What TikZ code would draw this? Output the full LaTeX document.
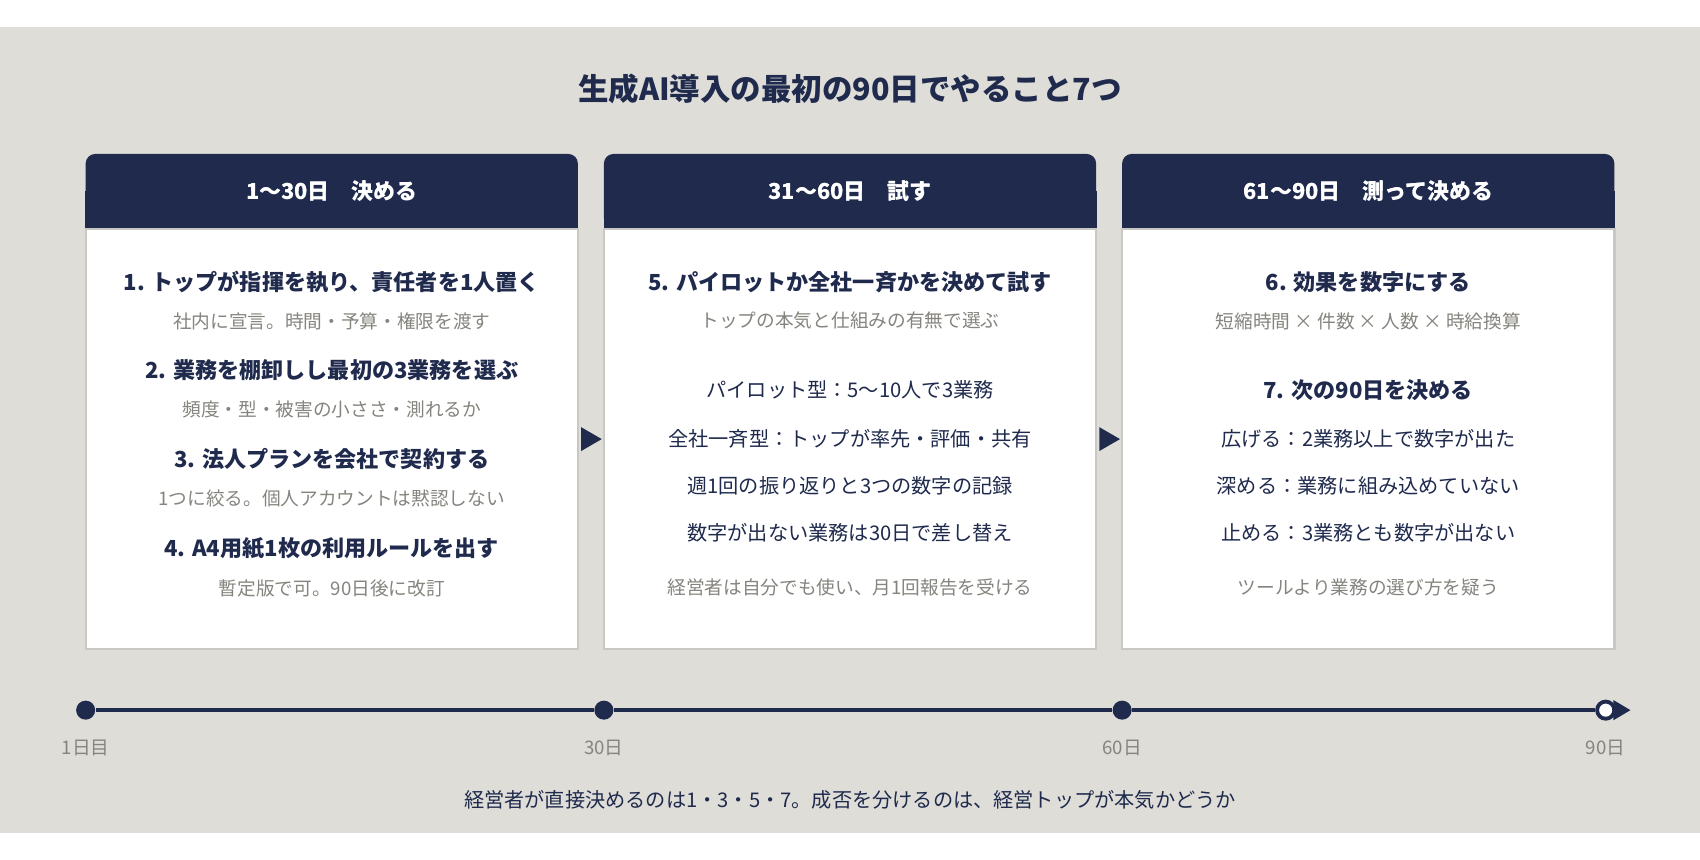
\documentclass[tikz,border=0pt]{standalone}
\usepackage{fontspec}
\setmainfont{Noto Sans CJK JP}
\usetikzlibrary{positioning, arrows.meta, calc}
\definecolor{navy}{HTML}{1F2A4D}
\definecolor{bandgrey}{HTML}{DEDDD8}
\definecolor{textgrey}{HTML}{85847E}
\definecolor{rimgrey}{HTML}{C9C8C3}
\tikzset{
    head/.style={fill=navy, rounded corners=5pt, minimum width=454*0.2mm, minimum height=68*0.2mm, text=white, font=\fontsize{11.5}{13}\selectfont\bfseries},
    body/.style={fill=white, draw=rimgrey, line width=1.2pt, minimum width=454*0.2mm, minimum height=387*0.2mm},
    task/.style={text=navy, font=\fontsize{11.6}{13}\selectfont\bfseries},
    note/.style={text=textgrey, font=\fontsize{9.8}{12}\selectfont},
    item/.style={text=navy, font=\fontsize{10.6}{12}\selectfont},
    dot/.style={circle, fill=navy, inner sep=0pt, minimum size=10pt},
    day/.style={text=textgrey, font=\fontsize{9.8}{12}\selectfont},
}
\begin{document}
\begin{tikzpicture}[x=0.2mm, y=-0.2mm]
    \useasboundingbox (0,0) rectangle (1568,793);
    \fill[white] (0,0) rectangle (1568,793);
    \fill[bandgrey] (0,25) rectangle (1568,768);

    \node[text=navy, font=\fontsize{16}{18}\selectfont\bfseries] (title) at (784,82) {生成AI導入の最初の90日でやること7つ};

    % columns
    \node[head] (H1) at (306,176) {1〜30日\quad 決める};
    \node[head] (H2) at (784,176) {31〜60日\quad 試す};
    \node[head] (H3) at (1262,176) {61〜90日\quad 測って決める};
    \node[body, below=0 of H1] (B1) {};
    \node[body, below=0 of H2] (B2) {};
    \node[body, below=0 of H3] (B3) {};
    \fill[navy] (H1.south west) rectangle (H1.east);
    \fill[navy] (H2.south west) rectangle (H2.east);
    \fill[navy] (H3.south west) rectangle (H3.east);
    \node[head, fill=none] at (H1) {1〜30日\quad 決める};
    \node[head, fill=none] at (H2) {31〜60日\quad 試す};
    \node[head, fill=none] at (H3) {61〜90日\quad 測って決める};

    \node[task] (s1) at (306,260) {1. トップが指揮を執り、責任者を1人置く};
    \node[note] (n1) at (306,296) {社内に宣言。時間・予算・権限を渡す};
    \node[task] (s2) at (306,341) {2. 業務を棚卸しし最初の3業務を選ぶ};
    \node[note] (n2) at (306,378) {頻度・型・被害の小ささ・測れるか};
    \node[task] (s3) at (306,423) {3. 法人プランを会社で契約する};
    \node[note] (n3) at (306,460) {1つに絞る。個人アカウントは黙認しない};
    \node[task] (s4) at (306,506) {4. A4用紙1枚の利用ルールを出す};
    \node[note] (n4) at (306,543) {暫定版で可。90日後に改訂};

    \node[task] (s5) at (784,260) {5. パイロットか全社一斉かを決めて試す};
    \node[note] (n5) at (784,296) {トップの本気と仕組みの有無で選ぶ};
    \node[item] (i51) at (784,360) {パイロット型：5〜10人で3業務};
    \node[item] (i52) at (784,405) {全社一斉型：トップが率先・評価・共有};
    \node[item] (i53) at (784,448) {週1回の振り返りと3つの数字の記録};
    \node[item] (i54) at (784,491) {数字が出ない業務は30日で差し替え};
    \node[note] (n55) at (784,542) {経営者は自分でも使い、月1回報告を受ける};

    \node[task] (s6) at (1262,260) {6. 効果を数字にする};
    \node[note] (n6) at (1262,296) {短縮時間 × 件数 × 人数 × 時給換算};
    \node[task] (s7) at (1262,360) {7. 次の90日を決める};
    \node[item] (i71) at (1262,405) {広げる：2業務以上で数字が出た};
    \node[item] (i72) at (1262,448) {深める：業務に組み込めていない};
    \node[item] (i73) at (1262,491) {止める：3業務とも数字が出ない};
    \node[note] (n7) at (1262,542) {ツールより業務の選び方を疑う};

    % arrows between columns
    \fill[navy] (536,394) -- (555,405) -- (536,416) -- cycle;
    \fill[navy] (1014,394) -- (1033,405) -- (1014,416) -- cycle;

    % timeline
    \node[dot] (d1) at (79,655) {};
    \node[dot] (d2) at (557,655) {};
    \node[dot] (d3) at (1035,655) {};
    \node[dot, fill=white, draw=navy, line width=2pt, minimum size=9pt] (d4) at (1481,655) {};
    \coordinate (tend) at (1504,655);
    \draw[navy, line width=2pt] (d1) -- (d2) -- (d3) -- (d4);
    \draw[navy, line width=2pt, -{Triangle[length=9pt, width=10pt]}] (d4) -- (tend);
    \node[day] (l1) at (79,690) {1日目};
    \node[day] (l2) at (557,690) {30日};
    \node[day] (l3) at (1035,690) {60日};
    \node[day] (l4) at (1481,690) {90日};

    \node[item] (foot) at (784,738) {経営者が直接決めるのは1・3・5・7。成否を分けるのは、経営トップが本気かどうか};
\end{tikzpicture}
\end{document}
